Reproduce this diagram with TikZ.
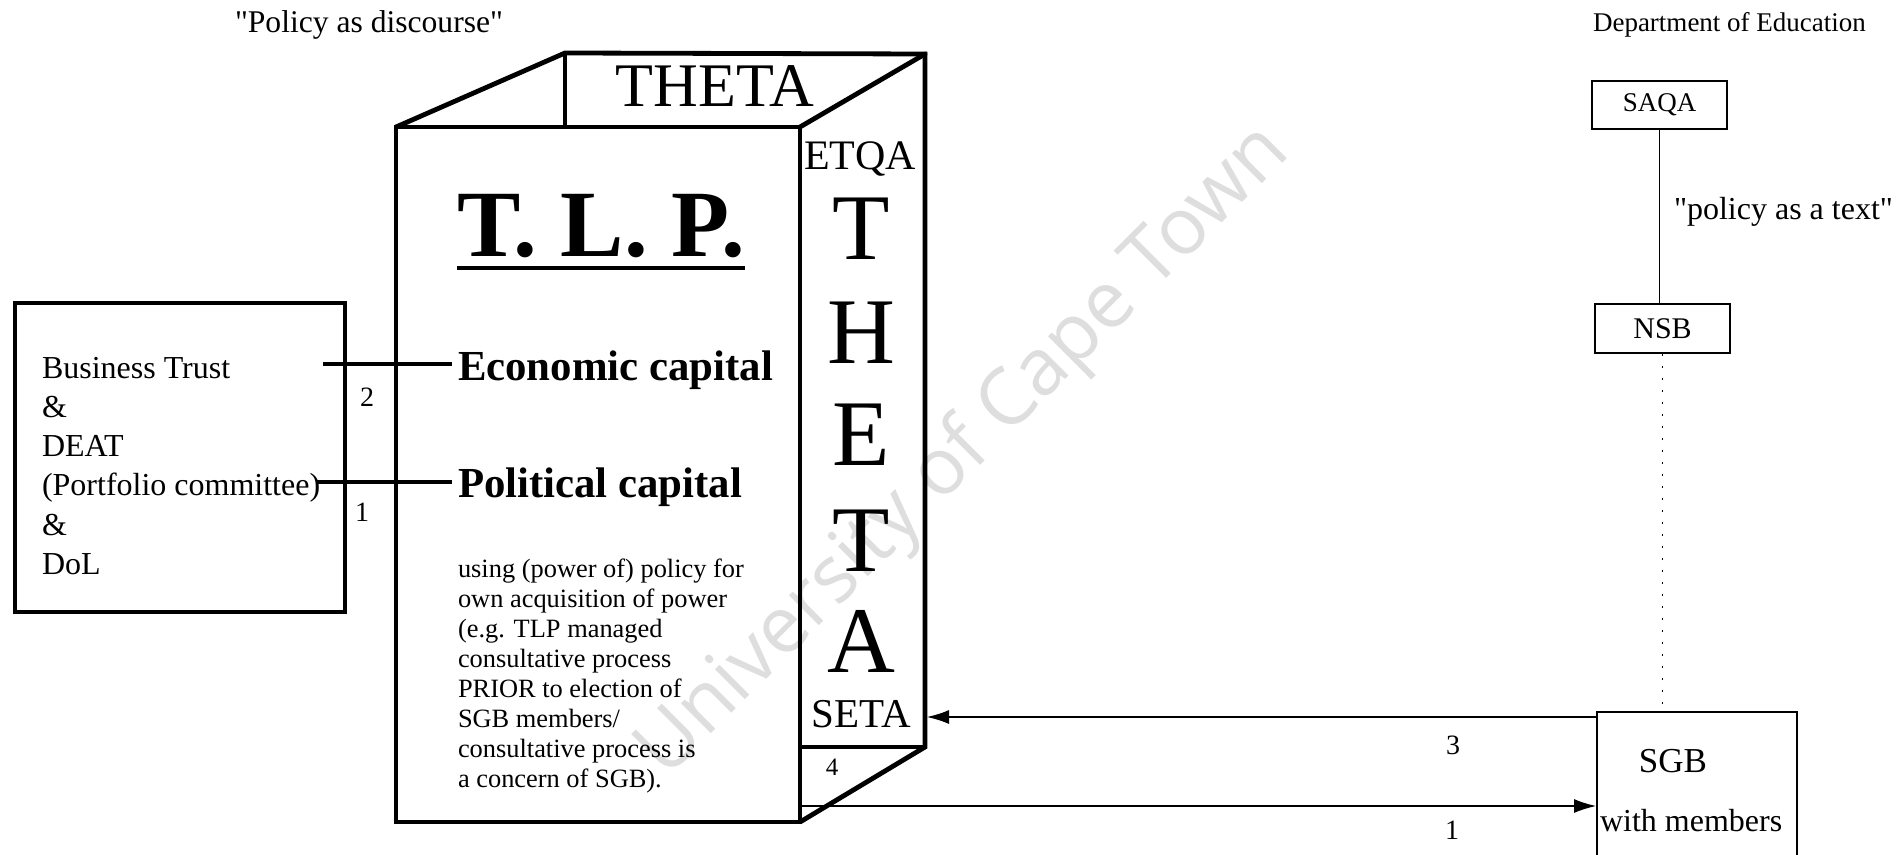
\documentclass[tikz,border=0pt]{standalone}
\usepackage{fontspec}
\setmainfont{Liberation Serif}
\newfontfamily\wmfont{Open Sans}
\usetikzlibrary{arrows.meta}
\newcommand{\fs}[2]{\fontsize{#1}{#2}\selectfont}
\newcommand{\mylines}[1]{\begin{tabular}[t]{@{}l@{}}#1\end{tabular}}
\begin{document}
\begin{tikzpicture}[x=0.5pt,y=-0.5pt,
  cubeedge/.style={line width=2.4pt, line join=miter},
  faceedge/.style={line width=2pt},
  txt/.style={inner sep=0pt, outer sep=0pt},
  thinbox/.style={draw, line width=0.6pt, inner sep=0pt},
  conn/.style={line width=0.6pt},
  heavy/.style={line width=1.6pt},
  tip/.style={-{Latex[length=11pt,width=7pt]}}]
\useasboundingbox[fill=white] (0,0) rectangle (1904,855);

% watermark
\node[txt, rotate=45, text=black!13, font=\wmfont\fs{39.5}{44}] (wm) at (964,452) {University of Cape Town};

% titles
\node[txt, anchor=base west, font=\fs{15.8}{19}] (disc) at (235,33) {\textquotedbl Policy as discourse\textquotedbl};
\node[txt, anchor=base west, font=\fs{13.5}{16}] (doe) at (1593,32) {Department of Education};

% cube
\coordinate (ftl) at (396,127);
\coordinate (ftr) at (800,127);
\coordinate (fbr) at (800,822);
\coordinate (btl) at (565,53);
\coordinate (btr) at (925,54);
\coordinate (bbr) at (925,747);
\coordinate (rin) at (800,747);
\draw[faceedge] (ftl) rectangle (fbr);
\draw[cubeedge] (ftl) -- (btl) -- (btr) -- (bbr) -- (fbr);
\draw[cubeedge, line cap=round] (btr) -- (ftr);
\draw[faceedge] (btl) -- (btl |- ftl);
\draw[faceedge] (rin) -- (bbr);

% cube texts
\node[txt, anchor=base, font=\fs{31}{34}] (thetatop) at (715,107) {THETA};
\node[txt, anchor=base, font=\fs{21}{24}] (etqa) at (860,170) {ETQA};
\node[txt, anchor=base, font=\fs{20.5}{24}] (seta) at (861,727) {SETA};
\foreach \L/\Y [count=\i] in {T/260, H/364, E/465, T/571, A/672}
  \node[txt, anchor=base, font=\fs{47}{50}] (v\i) at (861,\Y) {\L};
\node[txt, anchor=base, font=\fs{12.5}{15}] (four) at (832,775) {4};

\node[txt, anchor=base west, font=\bfseries\fs{47.5}{52}] (tlp) at (457,257) {T. L. P.};
\draw[line width=2.2pt] (tlp.base west) ++(0,11) coordinate (ul1) -- (ul1 -| tlp.base east);

\node[txt, anchor=base west, font=\bfseries\fs{21.4}{24}] (econ) at (458,380) {Economic capital};
\node[txt, anchor=base west, font=\bfseries\fs{21.4}{24}] (polit) at (458,497) {Political capital};

\node[txt, anchor=base west, font=\fs{13.2}{15}] (body) at (458,577) {\mylines{using (power of) policy for\\own acquisition of power\\(e.g. TLP managed\\consultative process\\PRIOR to election of\\SGB members/\\consultative process is\\a concern of SGB).}};

% left box
\node[draw, line width=1.7pt, minimum width=165pt, minimum height=154.5pt, inner sep=0pt] (bt) at (180,457.5) {};
\node[txt, anchor=base west, font=\fs{16}{19.5}] (bttext) at (42,379) {\mylines{Business Trust\\\&\\DEAT\\(Portfolio committee)\\\&\\DoL}};
\coordinate (l1s) at (323,364);
\coordinate (l2s) at (317,482);
\draw[heavy] (l1s) -- ([xshift=-3pt]l1s -| econ.west);
\draw[heavy] (l2s) -- ([xshift=-3pt]l2s -| polit.west);
\node[txt, font=\fs{14}{16}] (n2) at (367,397) {2};
\node[txt, font=\fs{14}{16}] (n1a) at (362,512) {1};

% right column
\node[thinbox, minimum width=67.5pt, minimum height=24pt] (saqa) at (1659.5,105) {\fs{13.5}{16}SAQA};
\node[thinbox, minimum width=67.5pt, minimum height=24.5pt] (nsb) at (1662.5,328.5) {\fs{15}{18}NSB};
\draw[conn] (saqa.south) -- (saqa.south |- nsb.north);
\node[txt, anchor=base west, font=\fs{16}{19}] (ptext) at (1674,220) {\textquotedbl policy as a text\textquotedbl};
\node[draw, line width=0.8pt, minimum width=100pt, minimum height=95pt, anchor=north west, inner sep=0pt] (sgb) at (1596,711) {};
\draw[conn, dash pattern=on 1pt off 5pt] (nsb.south) -- (nsb.south |- sgb.north);
\node[txt, anchor=base, font=\fs{17.5}{20}] (sgbt) at (1673,772) {SGB};
\node[txt, anchor=base west, font=\fs{16}{19}] (sgbm) at (1600,831) {with members};

% arrows
\coordinate (a3s) at (1596,717);
\draw[conn, tip] (a3s) -- ([xshift=1pt]a3s -| bbr);
\coordinate (a1s) at (800,806);
\draw[conn, tip] (a1s) -- (a1s -| sgb.west);
\node[txt, font=\fs{14}{16}] (n3) at (1453,745) {3};
\node[txt, font=\fs{14}{16}] (n1b) at (1452,830) {1};
\end{tikzpicture}
\end{document}
